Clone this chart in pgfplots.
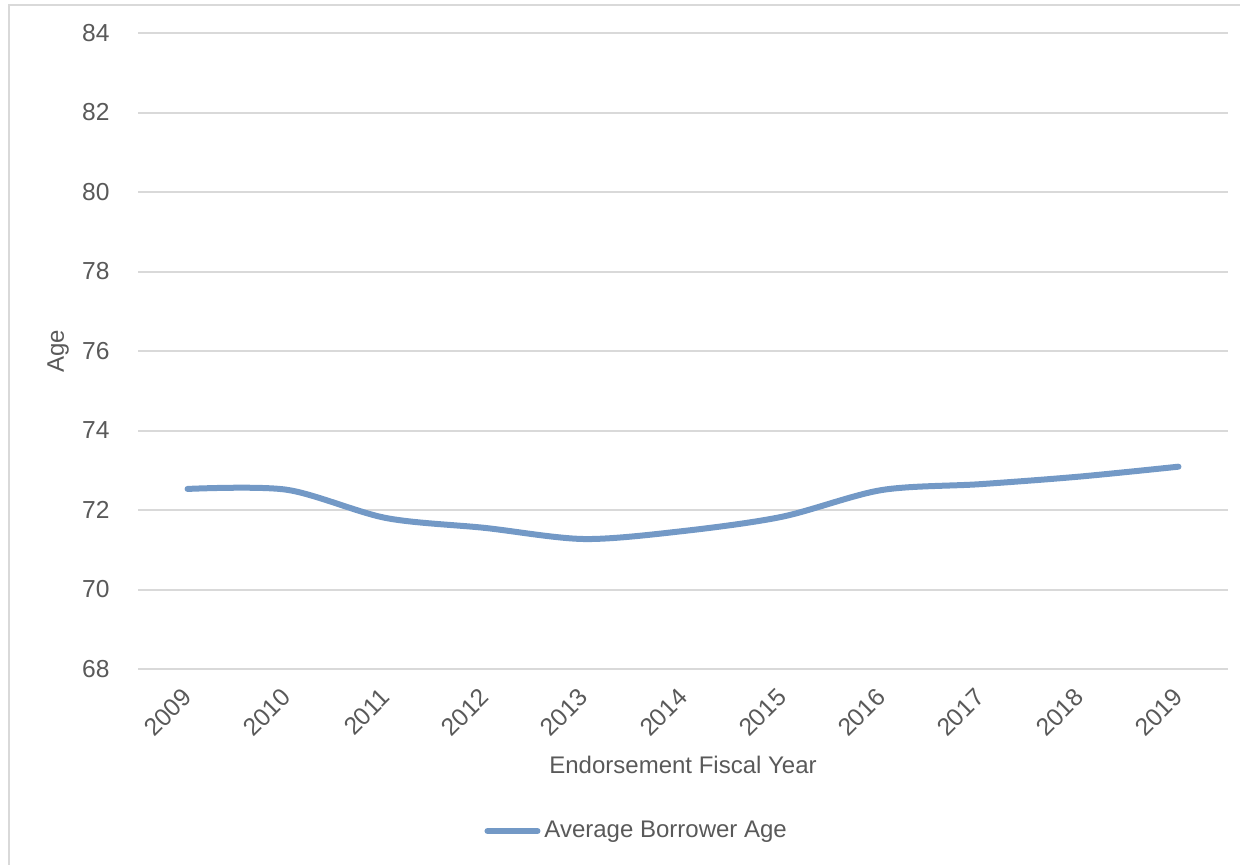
\documentclass[border=0pt]{standalone}
\usepackage{pgfplots}
\pgfplotsset{compat=1.18}
\usepackage{fontspec}
\setmainfont{Liberation Sans}
\definecolor{txt}{HTML}{595959}
\definecolor{gridc}{HTML}{D9D9D9}
\definecolor{ser}{HTML}{7399C6}
\begin{document}
\fontsize{12}{14.4}\selectfont
\begin{tikzpicture}
\useasboundingbox (0,0) rectangle (620pt,-432.5pt);
\draw[gridc, line width=1pt] (4.5pt,-450pt) -- (4.5pt,-2.5pt) -- (640pt,-2.5pt);
\begin{axis}[
  at={(69pt,-334.5pt)}, anchor=south west,
  scale only axis, width=545pt, height=318pt,
  xmin=-0.5, xmax=10.5, ymin=68, ymax=84,
  ytick={68,70,...,84},
  xtick={0,...,10},
  xticklabels={2009,2010,2011,2012,2013,2014,2015,2016,2017,2018,2019},
  axis line style={draw=none},
  major tick length=0pt,
  ymajorgrids, grid style={gridc, line width=1pt},
  tick label style={text=txt, font=\fontsize{12.3}{14}\selectfont},
  /pgf/number format/assume math mode=true,
  yticklabel style={anchor=east, inner sep=0pt, xshift=-14pt},
  xticklabel style={rotate=45, anchor=east, inner sep=0pt},
  xticklabel shift=12pt,
  xlabel={Endorsement Fiscal Year}, ylabel={Age},
  label style={text=txt, font=\fontsize{12}{14}\selectfont},
  xlabel style={at={(axis description cs:0.5,-0.151)}, anchor=center},
  ylabel style={at={(axis description cs:-0.0734,0.5)}, anchor=center},
  legend style={at={(0.3175,-0.2547)}, anchor=west, draw=none, fill=none, inner sep=0pt,
    font=\fontsize{12}{14}\selectfont, text=txt},
  legend cell align=left,
  legend image code/.code={\draw[ser, line width=3pt, line cap=round] (0pt,0pt) -- (25pt,0pt);},
]
\addplot[ser, line width=3pt, smooth, tension=0.5, line cap=round] coordinates {
(0,72.53) (1,72.51) (2,71.80) (3,71.55) (4,71.27) (5,71.47) (6,71.83) (7,72.50) (8,72.65) (9,72.84) (10,73.09)
};
\addlegendentry{Average Borrower Age}
\end{axis}
\end{tikzpicture}
\end{document}
